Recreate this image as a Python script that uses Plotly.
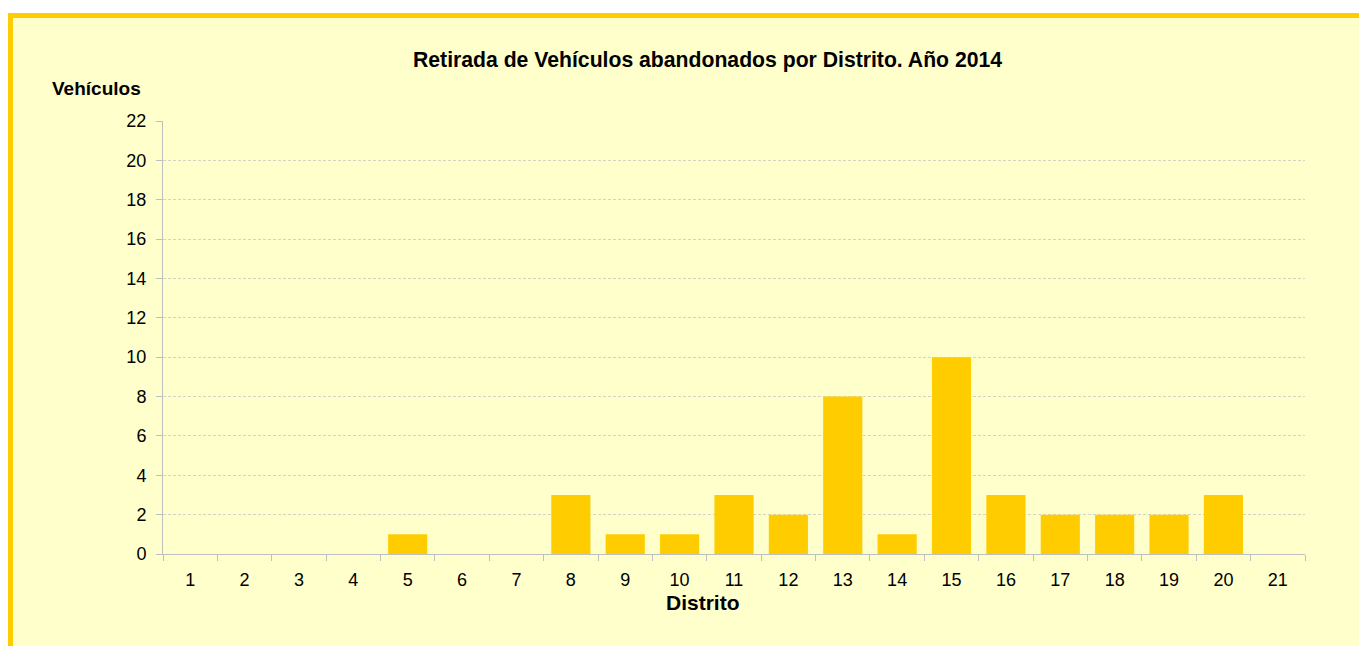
import plotly.graph_objects as go

distritos = [str(i) for i in range(1, 22)]
vehiculos = [0, 0, 0, 0, 1, 0, 0, 3, 1, 1, 3, 2, 8, 1, 10, 3, 2, 2, 2, 3, 0]
y_ticks = list(range(0, 23, 2))

# page has an 8px body margin; coordinates below are figure coordinates
W, H = 1367, 646
ML, MR, MT, MB = 155, 70, 113, 100
PW, PH = W - ML - MR, H - MT - MB

def px(x):
    return (x - ML) / PW

def py(y):
    return 1 - (y - MT) / PH

fig = go.Figure()
fig.add_trace(go.Bar(
    x=distritos, y=vehiculos,
    marker=dict(color="#FFCC00", line=dict(width=0)),
    width=0.72,
))

font = "Arial, Liberation Sans, sans-serif"
fig.update_layout(
    width=W, height=H,
    margin=dict(l=ML, r=MR, t=MT, b=MB),
    paper_bgcolor="white",
    plot_bgcolor="rgba(0,0,0,0)",
    showlegend=False,
    font=dict(family=font, size=18, color="#000000"),
    xaxis=dict(
        type="category", tickson="boundaries", ticks="outside", ticklen=6,
        tickcolor="#BFBFBF", showline=True, linecolor="#BFBFBF", linewidth=1,
        showgrid=False, tickfont=dict(size=18), ticklabelstandoff=9,
    ),
    yaxis=dict(
        range=[0, 22], tickvals=y_ticks, ticks="outside", ticklen=6,
        tickcolor="#BFBFBF", showline=True, linecolor="#BFBFBF", linewidth=1,
        showgrid=True, gridcolor="#D4D4C4", griddash="3px,2px", gridwidth=1,
        zeroline=False, tickfont=dict(size=18), ticklabelstandoff=6,
    ),
    shapes=[dict(
        type="rect", xref="paper", yref="paper", layer="below",
        x0=px(2.5), x1=px(W + 50), y0=py(H + 50), y1=py(7.5),
        fillcolor="#FFFFCC", line=dict(color="#FFCC00", width=5),
    )],
    annotations=[
        dict(text="<b>Retirada de Vehículos abandonados por Distrito. Año 2014</b>",
             xref="paper", yref="paper", x=px(699), y=py(52), showarrow=False,
             xanchor="center", yanchor="middle", font=dict(size=21.2)),
        dict(text="<b>Vehículos</b>", xref="paper", yref="paper",
             x=px(88), y=py(80), showarrow=False, xanchor="center",
             yanchor="middle", font=dict(size=19)),
        dict(text="<b>Distrito</b>", xref="paper", yref="paper",
             x=px(695), y=py(594), showarrow=False, xanchor="center",
             yanchor="middle", font=dict(size=21)),
    ],
)

fig.write_html("out.html")
